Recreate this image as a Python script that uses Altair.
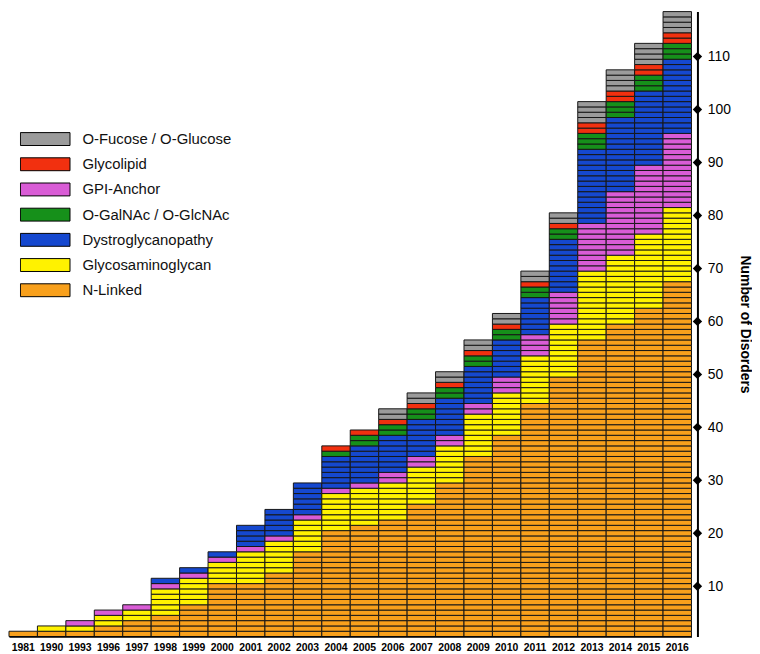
import altair as alt
import pandas as pd

# ---- data ----
years = [1981, 1990, 1993, 1996, 1997, 1998, 1999, 2000, 2001, 2002, 2003, 2004,
         2005, 2006, 2007, 2008, 2009, 2010, 2011, 2012, 2013, 2014, 2015, 2016]

n_linked = [1, 1, 1, 2, 3, 4, 6, 10, 10, 12, 16, 20, 21, 22, 25, 29, 34, 38, 44, 49, 56, 59, 62, 67]
glycosaminoglycan = [0, 1, 1, 2, 2, 5, 5, 4, 6, 6, 6, 7, 7, 7, 7, 7, 8, 8, 9, 10, 13, 13, 14, 14]
gpi_anchor = [0, 0, 1, 1, 1, 1, 1, 1, 1, 1, 1, 1, 1, 2, 2, 2, 2, 3, 4, 6, 9, 12, 13, 14]
dystroglycanopathy = [0, 0, 0, 0, 0, 1, 1, 1, 4, 5, 6, 6, 7, 7, 7, 7, 7, 7, 7, 10, 14, 14, 14, 14]
o_galnac = [0, 0, 0, 0, 0, 0, 0, 0, 0, 0, 0, 1, 2, 2, 2, 2, 2, 2, 2, 2, 3, 3, 3, 3]
glycolipid = [0, 0, 0, 0, 0, 0, 0, 0, 0, 0, 0, 1, 1, 1, 1, 1, 1, 1, 1, 1, 2, 2, 2, 2]
o_fucose = [0, 0, 0, 0, 0, 0, 0, 0, 0, 0, 0, 0, 0, 2, 2, 2, 2, 2, 2, 2, 4, 4, 4, 4]

stack_names = ["N-Linked", "Glycosaminoglycan", "GPI-Anchor", "Dystroglycanopathy",
               "O-GalNAc / O-GlcNAc", "Glycolipid", "O-Fucose / O-Glucose"]
stack_values = [n_linked, glycosaminoglycan, gpi_anchor, dystroglycanopathy,
                o_galnac, glycolipid, o_fucose]

legend_order = ["O-Fucose / O-Glucose", "Glycolipid", "GPI-Anchor", "O-GalNAc / O-GlcNAc",
                "Dystroglycanopathy", "Glycosaminoglycan", "N-Linked"]
legend_colors = ["#9b9b9b", "#f2300f", "#d95cd6", "#16901a", "#1548cf", "#fff200", "#f8a01c"]

tick_labels = [10, 20, 30, 40, 50, 60, 70, 80, 90, 100, 110]

# one row per disorder (each drawn as its own stripe)
rows = []
for i, yr in enumerate(years):
    level = 0
    for name, vals in zip(stack_names, stack_values):
        for _ in range(vals[i]):
            rows.append({"year": str(yr), "type": name, "y0": level, "y1": level + 1})
            level += 1
df = pd.DataFrame(rows)
ymax = max(sum(v[i] for v in stack_values) for i in range(len(years)))

# diamonds sit at the centre of the n-th stripe
ticks_df = pd.DataFrame({"y0": [t - 0.5 for t in tick_labels]})

W, H = 688, 630
FONT = "Liberation Sans"

bars = alt.Chart(df).mark_rect(stroke="#161616", strokeWidth=1).encode(
    x=alt.X("year:O", sort=[str(y) for y in years],
            scale=alt.Scale(paddingInner=0, paddingOuter=0),
            axis=alt.Axis(title=None, labelAngle=0, labelFont=FONT, labelFontSize=10.5,
                          labelFontWeight="bold", labelColor="black", ticks=False,
                          domainColor="black", domainWidth=1.5, labelPadding=6)),
    y=alt.Y("y0:Q", scale=alt.Scale(domain=[0, ymax], nice=False, zero=True),
            axis=alt.Axis(orient="right", offset=6, values=[t - 0.5 for t in tick_labels],
                          labelExpr="round(datum.value)", grid=False, ticks=False,
                          domainColor="black", domainWidth=2, labelFont=FONT,
                          labelFontSize=14, labelColor="black", labelPadding=10,
                          title="Number of Disorders", titleFont=FONT, titleFontSize=14,
                          titleFontWeight="bold", titleColor="black", titleAngle=90,
                          titlePadding=7)),
    y2="y1:Q",
    color=alt.Color("type:N", scale=alt.Scale(domain=legend_order, range=legend_colors),
                    legend=alt.Legend(title=None, orient="none", legendX=11, legendY=120,
                                      symbolType="M-1,-0.26H1V0.26H-1Z", symbolSize=2500,
                                      symbolStrokeColor="black", symbolStrokeWidth=1,
                                      symbolOpacity=1, clipHeight=17, rowPadding=8.4,
                                      labelFont=FONT, labelFontSize=15, labelColor="#111111",
                                      labelOffset=12)),
)

diamonds = alt.Chart(ticks_df).mark_point(shape="diamond", filled=True, color="black",
                                          size=90, opacity=1).encode(
    x=alt.value(W + 6),
    y=alt.Y("y0:Q"),
)

chart = alt.layer(bars, diamonds).properties(
    width=W, height=H, padding=0, background="white"
).configure_view(stroke=None)

chart.save("out.html", embed_options={"renderer": "svg", "actions": False})
